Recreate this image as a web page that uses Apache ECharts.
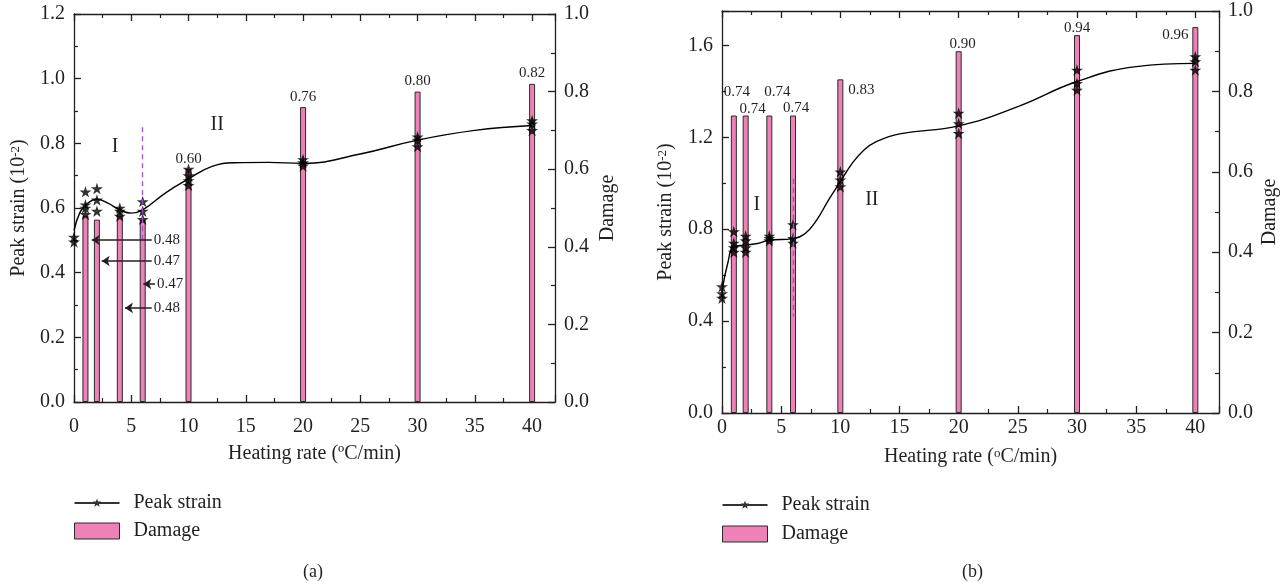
<!DOCTYPE html>
<html><head><meta charset="utf-8">
<script src="https://cdn.jsdelivr.net/npm/echarts@6/dist/echarts.min.js"></script>
<style>html,body{margin:0;padding:0;background:#fff}#c{width:1287px;height:586px}</style>
</head><body><div id="c"></div>
<script>
// ---------- data : chart (a) ----------
const damageXA = [1, 2, 4, 6, 10, 20, 30, 40];
const damageA  = [0.48, 0.47, 0.48, 0.47, 0.60, 0.76, 0.80, 0.82];
const strainXA = [0, 0, 1, 1, 1, 1, 2, 2, 2, 4, 4, 4, 6, 6, 6, 10, 10, 10, 10, 20, 20, 20, 30, 30, 30, 40, 40, 40];
const strainA  = [0.51, 0.495, 0.65, 0.61, 0.60, 0.58, 0.66, 0.625, 0.59, 0.60, 0.59, 0.575, 0.62, 0.59, 0.565,
                  0.72, 0.70, 0.685, 0.67, 0.75, 0.74, 0.73, 0.82, 0.81, 0.79, 0.87, 0.86, 0.84];
const fitXA = [0, 0.5, 1, 2, 3, 4, 5, 6, 8, 10, 12, 14, 17, 20, 25, 30, 35, 40];
const fitA  = [0.531, 0.585, 0.609, 0.627, 0.614, 0.594, 0.584, 0.594, 0.647, 0.69, 0.728, 0.74,
               0.741, 0.738, 0.767, 0.81, 0.84, 0.855];

// ---------- data : chart (b) ----------
const damageXB = [1, 2, 4, 6, 10, 20, 30, 40];
const damageB  = [0.74, 0.74, 0.74, 0.74, 0.83, 0.90, 0.94, 0.96];
const strainXB = [0, 0, 0, 1, 1, 1, 1, 2, 2, 2, 2, 4, 4, 4, 6, 6, 6, 10, 10, 10, 20, 20, 20, 30, 30, 30, 40, 40, 40];
const strainB  = [0.55, 0.52, 0.50, 0.79, 0.74, 0.72, 0.70, 0.77, 0.75, 0.72, 0.70, 0.77, 0.76, 0.75, 0.82, 0.76, 0.74,
                  1.05, 1.015, 0.985, 1.305, 1.26, 1.217, 1.493, 1.435, 1.406, 1.551, 1.53, 1.493];
const fitXB = [0, 0.5, 1, 2, 3, 4, 6, 7, 8, 9, 10, 11, 12, 13, 15, 20, 25, 30, 35, 40];
const fitB  = [0.53, 0.655, 0.724, 0.731, 0.738, 0.752, 0.759, 0.78, 0.84, 0.927, 1.007, 1.087, 1.145,
               1.18, 1.215, 1.25, 1.334, 1.443, 1.508, 1.522];

// ---------- annotations (positions only) ----------
const arrowsA = [ {bar: 0, y: 0.501, from: 6.79, to: 1.55},
                  {bar: 1, y: 0.436, from: 6.79, to: 2.42},
                  {bar: 3, y: 0.365, from: 7.07, to: 6.05},
                  {bar: 2, y: 0.291, from: 6.79, to: 4.45} ];
const labelOffsetB = [[3, -13], [7, 4], [8, -13], [3, 3], [21, 21], [4, 3], [0, 3], [-20, 18]];
const stageA = [{name: 'I', x: 3.58, y: 0.789}, {name: 'II', x: 12.5, y: 0.857}];
const stageB = [{name: 'I', x: 2.95, y: 0.905}, {name: 'II', x: 12.66, y: 0.927}];
const dashA = {x: 6, y0: 0.85, y1: 0.50};
const dashB = {x: 6, y0: 1.02, y1: 0.42};

const FONT = 'Liberation Serif';
const INK = '#231f20';
const PINK = '#ee82b8';
const STAR = 'path://M50,0L61.2,34.5L97.6,34.5L68.2,55.9L79.4,90.5L50,69.1L20.6,90.5L31.8,55.9L2.4,34.5L38.8,34.5Z';
const LEG_ICON = 'path://M0,0h0.01v0.01h-0.01zM45,16h-0.01v-0.01h0.01zM0,7h45v2h-45z' +
  'M22.5,3.5L23.6,6.5L26.8,6.6L24.3,8.6L25.2,11.7L22.5,9.9L19.8,11.7L20.7,8.6L18.2,6.6L21.4,6.5Z';

const chart = echarts.init(document.getElementById('c'), null, {renderer: 'canvas'});

const txt = (size) => ({fontFamily: FONT, fontSize: size, color: INK});
const axLine = {show: true, onZero: false, lineStyle: {color: INK, width: 1.3}};
const tick = {show: true, inside: true, length: 7, lineStyle: {color: INK, width: 1.3}};
const minor = {show: true, splitNumber: 2, length: 4, lineStyle: {color: INK, width: 1.2}};
const richName = {fontFamily: FONT, fontSize: 20, color: INK,
  rich: {sup: {fontFamily: FONT, fontSize: 13, color: INK, verticalAlign: 'top'}}};

function xAx(grid, pos, labelMargin, name, nameGap) {
  const bottom = pos === 'bottom';
  return {
    type: 'value', gridIndex: grid, position: pos, min: 0, max: 42, interval: 5,
    axisLine: axLine, axisTick: tick, minorTick: minor, splitLine: {show: false},
    axisLabel: {show: bottom, margin: labelMargin, showMaxLabel: false, ...txt(20)},
    name: bottom ? name : '', nameLocation: 'middle', nameGap: nameGap, nameTextStyle: richName
  };
}
function yAx(grid, pos, max, interval, name, gap) {
  return {
    type: 'value', gridIndex: grid, position: pos, min: 0, max: max, interval: interval,
    axisLine: axLine, axisTick: tick, minorTick: minor, splitLine: {show: false},
    axisLabel: {margin: 9, showMaxLabel: Math.abs(max / interval - Math.round(max / interval)) < 1e-6,
      formatter: v => v.toFixed(1), ...txt(20)},
    name: name, nameLocation: 'middle', nameGap: gap, nameRotate: 90, nameTextStyle: richName
  };
}

function barSeries(xi, yi, xs, vs, itemLabel) {
  return {
    name: 'Damage', type: 'bar', xAxisIndex: xi, yAxisIndex: yi, barWidth: 6,
    itemStyle: {color: PINK, borderColor: '#2a2a2a', borderWidth: 1},
    label: {show: true, position: 'top', distance: 3, formatter: p => p.value[1].toFixed(2), ...txt(15)},
    emphasis: {disabled: true},
    data: xs.map((x, i) => Object.assign({value: [x, vs[i]]}, itemLabel(i)))
  };
}
function fitSeries(xi, yi, xs, vs, stages, dash, dashColor) {
  return {
    type: 'line', xAxisIndex: xi, yAxisIndex: yi, smooth: 0.45, showSymbol: false,
    lineStyle: {color: '#000', width: 1.4}, emphasis: {disabled: true}, silent: true,
    data: xs.map((x, i) => [x, vs[i]]),
    markLine: {silent: true, symbol: ['none', 'none'], label: {show: false},
      lineStyle: {type: [5, 4], color: dashColor, width: 1.3},
      data: [[{coord: [dash.x, dash.y0]}, {coord: [dash.x, dash.y1]}]]},
    markPoint: {silent: true, symbol: 'circle', symbolSize: 1, itemStyle: {color: 'rgba(0,0,0,0)'},
      label: {show: true, position: 'inside', formatter: p => p.name, ...txt(20)},
      data: stages.map(s => ({name: s.name, coord: [s.x, s.y]}))}
  };
}
function starSeries(xi, yi, xs, vs, extra) {
  return Object.assign({
    name: 'Peak strain', type: 'scatter', xAxisIndex: xi, yAxisIndex: yi,
    symbol: STAR, symbolSize: [12, 11.5], itemStyle: {color: '#000'}, emphasis: {disabled: true},
    data: xs.map((x, i) => [x, vs[i]])
  }, extra || {});
}

const legendBase = (left, top, gap) => ({
  left: left, top: top, padding: 0, orient: 'vertical', itemWidth: 45, itemHeight: 16, itemGap: gap, selectedMode: false,
  textStyle: {...txt(20), padding: [0, 0, 0, 9]},
  data: [{name: 'Peak strain', icon: LEG_ICON},
         {name: 'Damage', icon: 'rect', itemStyle: {color: PINK, borderColor: '#2a2a2a', borderWidth: 1}}]
});

const option = {
  animation: false,
  backgroundColor: '#fff',
  title: [
    {text: '(a)', left: 298, top: 558, textStyle: {...txt(18), fontWeight: 'normal'}},
    {text: '(b)', left: 957, top: 558, textStyle: {...txt(18), fontWeight: 'normal'}}
  ],
  legend: [legendBase(74, 493, 8), legendBase(722, 495, 9)],
  grid: [
    {left: 74, top: 14, width: 481, height: 388, containLabel: false},
    {left: 722, top: 11, width: 497, height: 402, containLabel: false}
  ],
  xAxis: [
    xAx(0, 'bottom', 15, 'Heating rate (ºC/min)', 42),
    xAx(0, 'top', 0, '', 0),
    xAx(1, 'bottom', 5, 'Heating rate ({sup|o}C/min)', 34),
    xAx(1, 'top', 0, '', 0)
  ],
  yAxis: [
    yAx(0, 'left', 1.2, 0.2, 'Peak strain (10{sup|-2})', 45),
    yAx(0, 'right', 1.0, 0.2, 'Damage', 43),
    yAx(1, 'left', 1.75, 0.4, 'Peak strain (10{sup|-2})', 46),
    yAx(1, 'right', 1.0, 0.2, 'Damage', 41)
  ],
  series: [
    barSeries(0, 1, damageXA, damageA, i => i < 4 ? {label: {show: false}} : {}),
    fitSeries(0, 0, fitXA, fitA, stageA, dashA, '#a24fd4'),
    starSeries(0, 0, strainXA, strainA, {
      markLine: {
        silent: true, symbol: ['none', 'arrow'], symbolSize: 8,
        lineStyle: {type: 'solid', color: INK, width: 1.5},
        label: {show: true, position: 'start', distance: 2, formatter: p => p.name, ...txt(15)},
        data: arrowsA.map(a => {
          const nm = damageA[a.bar].toFixed(2);
          return [{name: nm, coord: [a.from, a.y]}, {name: nm, coord: [a.to, a.y]}];
        })
      }
    }),
    barSeries(2, 3, damageXB, damageB, i => ({label: {offset: labelOffsetB[i]}})),
    fitSeries(2, 2, fitXB, fitB, stageB, dashB, '#6f5ad8'),
    starSeries(2, 2, strainXB, strainB)
  ]
};
chart.setOption(option);
</script>
</body></html>
